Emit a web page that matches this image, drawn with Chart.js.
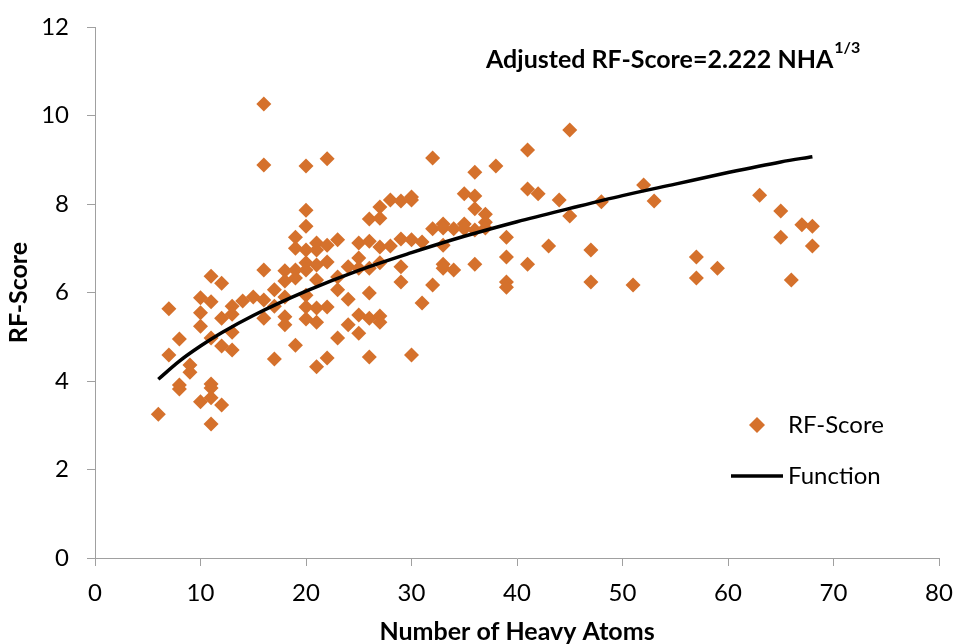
<!DOCTYPE html>
<html>
<head>
<meta charset="utf-8">
<script src="https://cdn.jsdelivr.net/npm/chart.js@4.4.1/dist/chart.umd.min.js"></script>
<style>
  html, body { margin: 0; padding: 0; background: #fff; }
  #wrap { width: 956px; height: 644px; }
</style>
</head>
<body>
<div id="wrap"><canvas id="myChart" width="956" height="644"></canvas></div>
<script>
// heavy atom count and RF-Score for each complex
const heavyAtoms = [
  6, 7, 7, 8, 8, 8, 9, 9, 10, 10, 10, 10,
  11, 11, 11, 11, 11, 11, 11, 12, 12, 12, 12, 13, 13, 13, 13, 14, 15,
  16, 16, 16, 16, 16, 17, 17, 17, 18, 18, 18, 18, 18,
  19, 19, 19, 19, 19, 20, 20, 20, 20, 20, 20, 20, 20, 20,
  21, 21, 21, 21, 21, 21, 21, 22, 22, 22, 22, 22, 23, 23, 23, 23,
  24, 24, 24, 25, 25, 25, 25, 25, 26, 26, 26, 26, 26, 26,
  27, 27, 27, 27, 27, 27, 28, 28, 29, 29, 29, 29, 30, 30, 30, 30,
  31, 31, 32, 32, 32, 33, 33, 33, 33, 33, 34, 34, 35, 35, 35,
  36, 36, 36, 36, 36, 37, 37, 37, 38, 39, 39, 39, 39,
  41, 41, 41, 42, 43, 44, 45, 45, 47, 47, 48, 51, 52, 53,
  57, 57, 59, 63, 65, 65, 66, 67, 68, 68
];
const rfScore = [
  3.25, 5.63, 4.59, 4.95, 3.91, 3.82, 4.36, 4.2, 5.88, 5.54, 5.24, 3.53,
  6.37, 5.79, 4.97, 3.93, 3.84, 3.62, 3.03, 6.21, 5.42, 4.79, 3.46, 5.69, 5.51, 5.1, 4.7, 5.81, 5.9,
  10.26, 8.88, 6.51, 5.83, 5.42, 6.06, 5.69, 4.5, 6.49, 6.26, 5.9, 5.45, 5.27,
  7.25, 7.0, 6.51, 6.33, 4.81, 8.86, 7.86, 7.5, 6.96, 6.67, 6.51, 5.94, 5.67, 5.4,
  7.12, 6.96, 6.62, 6.28, 5.65, 5.33, 4.32, 9.02, 7.07, 6.69, 5.67, 4.52, 7.19, 6.35, 6.06, 4.97,
  6.58, 5.85, 5.27, 7.12, 6.78, 6.55, 5.49, 5.08, 7.66, 7.16, 6.55, 5.99, 5.42, 4.54,
  7.93, 7.68, 7.03, 6.67, 5.47, 5.33, 8.09, 7.05, 8.07, 7.21, 6.58, 6.24, 8.09, 8.16, 7.19, 4.59,
  7.14, 5.76, 9.04, 7.44, 6.17, 7.55, 7.46, 7.07, 6.64, 6.55, 7.44, 6.51, 8.23, 7.55, 7.44,
  8.72, 8.18, 7.89, 7.41, 6.64, 7.77, 7.59, 7.46, 8.86, 7.25, 6.8, 6.24, 6.12,
  9.22, 8.34, 6.64, 8.23, 7.05, 8.09, 9.67, 7.73, 6.96, 6.24, 8.05, 6.17, 8.43, 8.07,
  6.8, 6.33, 6.55, 8.2, 7.84, 7.25, 6.28, 7.53, 7.5, 7.05
];

// fitted curve, sampled from the drawn black line
const fitX = [6, 8, 10, 12, 15, 20, 25, 30, 35, 40, 45, 50, 55, 60, 65, 68];
const fitY = [4.04, 4.45, 4.79, 5.09, 5.48, 6.03, 6.5, 6.9, 7.27, 7.6, 7.9, 8.19, 8.45, 8.71, 8.95, 9.07];

const xTicks = [0, 10, 20, 30, 40, 50, 60, 70, 80];
const yTicks = [0, 2, 4, 6, 8, 10, 12];

const orange = '#D5712C';
const axisGray = '#a0a0a0';
const fontFamily = "Lato, 'Liberation Sans', sans-serif";

const scatterPts = heavyAtoms.map((x, i) => ({ x: x, y: rfScore[i] }));
const fitPts = fitX.map((x, i) => ({ x: x, y: fitY[i] }));

// legend + formula text drawn by hand so they sit where the original has them
const overlay = {
  id: 'overlay',
  afterDraw(chart) {
    const ctx = chart.ctx;
    ctx.save();
    ctx.fillStyle = '#000';
    ctx.textBaseline = 'middle';

    ctx.font = "bold 25px " + fontFamily;
    ctx.textAlign = 'left';
    const main = 'Adjusted RF-Score=2.222 NHA';
    ctx.fillText(main, 486, 60);
    const w = ctx.measureText(main).width;
    ctx.font = "bold 16px " + fontFamily;
    ctx.fillText('1/3', 486 + w + 1, 48);

    // legend: diamond marker
    ctx.fillStyle = orange;
    ctx.beginPath();
    ctx.moveTo(757, 417);
    ctx.lineTo(765, 425);
    ctx.lineTo(757, 433);
    ctx.lineTo(749, 425);
    ctx.closePath();
    ctx.fill();
    // legend: line
    ctx.strokeStyle = '#000';
    ctx.lineWidth = 3.5;
    ctx.beginPath();
    ctx.moveTo(731, 476);
    ctx.lineTo(783, 476);
    ctx.stroke();

    ctx.fillStyle = '#000';
    ctx.font = "24px " + fontFamily;
    ctx.fillText('RF-Score', 788, 425);
    ctx.fillText('Function', 788, 476);
    ctx.restore();
  }
};

const ctx = document.getElementById('myChart').getContext('2d');
const myChart = new Chart(ctx, {
  type: 'scatter',
  data: {
    datasets: [
      {
        label: 'RF-Score',
        data: scatterPts,
        pointStyle: 'rectRot',
        pointRadius: 7.5,
        pointHoverRadius: 7.5,
        backgroundColor: orange,
        borderColor: orange,
        borderWidth: 0,
        order: 2
      },
      {
        label: 'Function',
        data: fitPts,
        showLine: true,
        pointRadius: 0,
        borderColor: '#000',
        borderWidth: 3.5,
        cubicInterpolationMode: 'monotone',
        fill: false,
        order: 1
      }
    ]
  },
  options: {
    responsive: false,
    animation: false,
    layout: { padding: { top: 27, right: 17, left: 0, bottom: 0 } },
    plugins: {
      legend: { display: false },
      tooltip: { enabled: false }
    },
    scales: {
      x: {
        type: 'linear',
        min: 0,
        max: 80,
        afterBuildTicks: s => { s.ticks = xTicks.map(v => ({ value: v })); },
        afterFit: s => { s.height = 86; s.paddingLeft = 0; s.paddingRight = 0; },
        border: { color: axisGray, width: 1 },
        grid: { drawOnChartArea: false, drawTicks: true, tickLength: 8, color: axisGray },
        ticks: { color: '#000', font: { size: 24, family: fontFamily }, padding: 13, maxRotation: 0 },
        title: {
          display: true,
          text: 'Number of Heavy Atoms',
          color: '#000',
          font: { size: 25, weight: 'bold', family: fontFamily, lineHeight: 1 },
          padding: { top: 0, bottom: 0 }
        }
      },
      y: {
        type: 'linear',
        min: 0,
        max: 12,
        afterBuildTicks: s => { s.ticks = yTicks.map(v => ({ value: v })); },
        afterFit: s => { s.width = 95; s.paddingTop = 0; s.paddingBottom = 0; },
        border: { color: axisGray, width: 1 },
        grid: { drawOnChartArea: false, drawTicks: true, tickLength: 8, color: axisGray },
        ticks: { color: '#000', font: { size: 24, family: fontFamily }, padding: 18 },
        title: {
          display: true,
          text: 'RF-Score',
          color: '#000',
          font: { size: 25, weight: 'bold', family: fontFamily, lineHeight: 1 },
          padding: { top: 6, bottom: 0 }
        }
      }
    }
  },
  plugins: [overlay]
});
</script>
</body>
</html>
